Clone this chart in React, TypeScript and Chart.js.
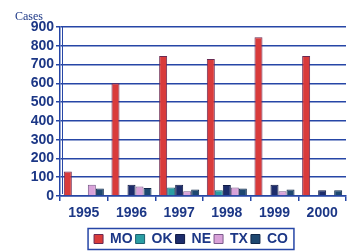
import React, { useEffect, useRef } from "react";
import { Chart, registerables } from "chart.js";

Chart.register(...registerables);

const years = ["1995", "1996", "1997", "1998", "1999", "2000"];
const seriesNames = ["MO", "OK", "NE", "TX", "CO"];
const moValues = [130, 600, 745, 730, 845, 745];
const okValues = [0, 0, 45, 30, 0, 0];
const neValues = [0, 60, 60, 58, 60, 30];
const txValues = [60, 50, 25, 45, 25, 5];
const coValues = [40, 42, 35, 40, 35, 30];
const yTicks = [0, 100, 200, 300, 400, 500, 600, 700, 800, 900];

const fills = ["#d93b3b", "#2a9ea3", "#1d2d6b", "#d9a2d9", "#1e4870"];
const borders = ["#6b2a52", "#1d5f70", "#101a45", "#7a5a8a", "#10284a"];
const blue = "#2646a6";
const textBlue = "#1c3786";
const font = "Arial, 'Liberation Sans', sans-serif";

export default function App() {
  const ref = useRef<HTMLCanvasElement | null>(null);
  useEffect(() => {
    if (!ref.current) return;
    const values = [moValues, okValues, neValues, txValues, coValues];
    const extras = {
      id: "extras",
      afterDraw(chart: any) {
        const ctx = chart.ctx;
        ctx.save();
        ctx.fillStyle = textBlue;
        ctx.font = "12px 'Liberation Serif', 'Times New Roman', serif";
        ctx.textBaseline = "alphabetic";
        ctx.textAlign = "left";
        ctx.fillText("Cases", 15, 20);
        const lg = chart.legend;
        if (lg && lg.legendHitBoxes && lg.legendHitBoxes.length) {
          const hb = lg.legendHitBoxes;
          const x0 = hb[0].left - 6;
          const x1 = hb[hb.length - 1].left + hb[hb.length - 1].width + 6;
          const cy = hb[0].top + hb[0].height / 2;
          ctx.strokeStyle = blue;
          ctx.lineWidth = 1.5;
          ctx.strokeRect(x0, cy - 10.5, x1 - x0, 21);
        }
        const a = chart.chartArea;
        ctx.strokeStyle = blue;
        ctx.lineWidth = 1;
        ctx.beginPath();
        ctx.moveTo(a.left + 2.5, a.top);
        ctx.lineTo(a.left + 2.5, a.bottom - 2);
        ctx.stroke();
        ctx.restore();
      },
    };
    const chart = new Chart(ref.current, {
      type: "bar",
      data: {
        labels: years,
        datasets: seriesNames.map((n, i) => ({
          label: n,
          data: values[i],
          backgroundColor: fills[i],
          borderColor: borders[i],
          borderWidth: 1,
          categoryPercentage: 0.84,
          barPercentage: 1.0,
        })),
      },
      options: {
        animation: false,
        responsive: false,
        maintainAspectRatio: false,
        layout: { padding: { top: 27, right: 0, bottom: -5, left: 0 } },
        plugins: {
          tooltip: { enabled: false },
          legend: {
            position: "bottom",
            labels: {
              boxWidth: 9,
              boxHeight: 9,
              padding: 3,
              color: textBlue,
              font: { family: font, size: 14, weight: "bold" },
            },
          },
        },
        scales: {
          x: {
            grid: {
              offset: true,
              drawOnChartArea: false,
              drawTicks: true,
              tickLength: 5,
              color: blue,
              lineWidth: 1.5,
            },
            border: { color: blue, width: 1.5 },
            ticks: {
              color: textBlue,
              padding: 4,
              font: { family: font, size: 14, weight: "bold" },
            },
            afterFit: (s: any) => {
              s.height = 33;
            },
          },
          y: {
            min: 0,
            max: 900,
            afterBuildTicks: (s: any) => {
              s.ticks = yTicks.map((v) => ({ value: v }));
            },
            grid: { color: blue, lineWidth: 1.5, tickLength: 4 },
            border: { color: blue, width: 1.5 },
            ticks: {
              autoSkip: false,
              color: textBlue,
              padding: 2,
              font: { family: font, size: 14, weight: "bold" },
            },
            afterFit: (s: any) => {
              s.width = 60;
            },
          },
          yRight: {
            position: "right",
            min: 0,
            max: 900,
            grid: { drawOnChartArea: false, drawTicks: false },
            border: { display: false },
            ticks: { display: false },
            afterFit: (s: any) => {
              s.width = 36;
            },
          },
        },
      },
      plugins: [extras],
    });
    return () => chart.destroy();
  }, []);
  return (
    <div style={{ position: "fixed", left: 0, top: 0, width: 347, height: 251, overflow: "hidden", background: "#fff" }}>
      <canvas ref={ref} width={382} height={251} style={{ display: "block" }} />
    </div>
  );
}
